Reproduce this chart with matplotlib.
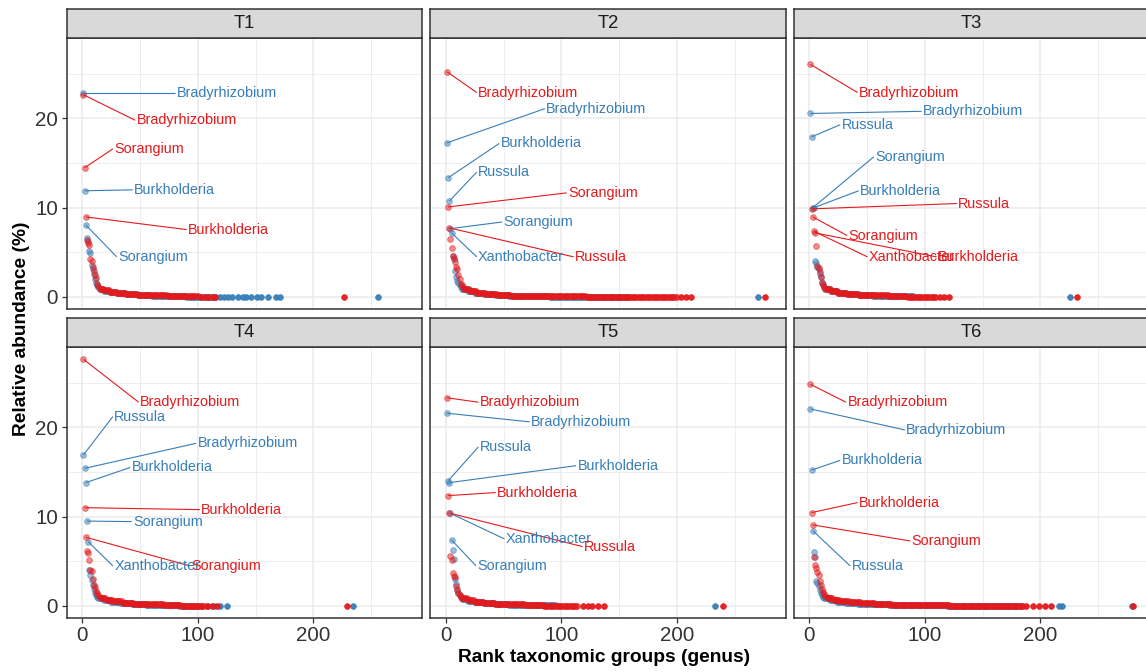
import matplotlib
matplotlib.use('Agg')
import matplotlib.pyplot as plt

# ---------------- data ----------------
panels = ['T1', 'T2', 'T3', 'T4', 'T5', 'T6']
series = ['blue', 'red']
x_ticks = [0, 100, 200]
y_ticks = [0, 10, 20]

# relative abundance (%) of the first ranks (rank 1, 2, 3, ...)
blue_head = {
    'T1': [22.8, 11.9, 8.07, 6.6, 6.3, 5.2, 4.9, 3.6, 3.1, 2.6, 2.0, 1.6, 1.3, 1.1],
    'T2': [17.27, 13.35, 10.73, 7.66, 7.18, 4.6, 4.2, 2.9, 2.2, 1.75, 1.6, 1.3, 1.1],
    'T3': [20.56, 17.94, 10.0, 10.0, 4.0, 3.8, 3.4, 3.1, 2.6, 2.2, 1.7, 1.4, 1.15],
    'T4': [16.9, 15.4, 13.8, 9.5, 7.2, 4.0, 3.5, 2.9, 2.35, 1.9, 1.5, 1.25, 1.05],
    'T5': [21.57, 14.0, 13.8, 10.37, 7.39, 6.27, 5.3, 3.0, 2.5, 1.87, 1.5, 1.2, 1.0],
    'T6': [22.05, 15.2, 8.43, 6.0, 5.5, 2.84, 2.6, 2.2, 1.8, 1.5, 1.25, 1.05],
}
red_head = {
    'T1': [22.65, 14.47, 8.97, 6.4, 6.1, 5.8, 4.2, 4.0, 3.4, 2.9, 2.5, 2.1, 1.5, 1.2],
    'T2': [25.23, 10.09, 7.74, 6.5, 5.5, 4.6, 4.4, 3.9, 3.4, 3.1, 2.5, 2.0, 1.5, 1.3, 1.1],
    'T3': [26.06, 9.87, 8.97, 7.36, 7.18, 5.68, 3.5, 3.25, 2.8, 2.2, 1.6, 1.3, 1.1],
    'T4': [27.6, 11.0, 7.69, 6.16, 5.9, 5.15, 4.0, 3.9, 3.0, 2.35, 2.1, 1.7, 1.4, 1.2, 1.05],
    'T5': [23.3, 12.35, 10.4, 5.6, 5.15, 3.66, 3.36, 3.2, 2.24, 1.8, 1.5, 1.25, 1.05],
    'T6': [24.8, 10.45, 9.07, 5.45, 4.6, 4.2, 3.84, 3.47, 2.84, 2.3, 1.9, 1.6, 1.35, 1.15, 1.0],
}
# long tail, as (number of consecutive ranks, abundance %)
blue_tail = {
    'T1': [(4, 0.9), (5, 0.7), (6, 0.52), (8, 0.4), (10, 0.28), (12, 0.2), (14, 0.14), (16, 0.09), (27, 0.05)],
    'T2': [(5, 0.85), (6, 0.62), (8, 0.45), (10, 0.32), (12, 0.22), (15, 0.14), (20, 0.08), (30, 0.05), (40, 0.03)],
    'T3': [(5, 0.85), (6, 0.62), (8, 0.45), (10, 0.32), (12, 0.22), (14, 0.14), (22, 0.07)],
    'T4': [(5, 0.85), (6, 0.65), (8, 0.48), (10, 0.34), (12, 0.24), (14, 0.15), (15, 0.09), (17, 0.04)],
    'T5': [(5, 0.8), (6, 0.6), (8, 0.44), (10, 0.3), (12, 0.21), (14, 0.13), (27, 0.06)],
    'T6': [(5, 0.85), (6, 0.66), (8, 0.5), (10, 0.38), (12, 0.27), (15, 0.18), (20, 0.12), (30, 0.07), (30, 0.04), (32, 0.02)],
}
red_tail = {
    'T1': [(4, 0.95), (5, 0.75), (6, 0.58), (8, 0.45), (10, 0.33), (12, 0.24), (14, 0.17), (16, 0.11), (11, 0.06)],
    'T2': [(5, 0.9), (6, 0.65), (8, 0.48), (10, 0.34), (12, 0.24), (15, 0.15), (20, 0.09), (30, 0.06), (30, 0.04), (49, 0.03)],
    'T3': [(5, 0.9), (6, 0.68), (8, 0.5), (10, 0.36), (12, 0.26), (14, 0.17), (16, 0.11), (26, 0.05)],
    'T4': [(5, 0.9), (6, 0.7), (8, 0.52), (10, 0.38), (12, 0.27), (14, 0.18), (15, 0.11), (20, 0.05)],
    'T5': [(5, 0.9), (6, 0.68), (8, 0.5), (10, 0.36), (12, 0.26), (14, 0.17), (16, 0.11), (30, 0.05)],
    'T6': [(5, 0.9), (6, 0.72), (8, 0.55), (10, 0.42), (12, 0.31), (15, 0.22), (20, 0.15), (30, 0.09), (30, 0.05), (34, 0.03)],
}
# isolated tied-rank groups at the end of the tail (rank), abundance ~0.02 %
blue_sparse = {
    'T1': [119, 123, 126, 130, 135, 139, 142, 146, 151, 155, 161, 168, 171, 256],
    'T2': [270],
    'T3': [226],
    'T4': [104, 109, 114, 119, 125, 234],
    'T5': [233],
    'T6': [183, 216, 219, 279],
}
red_sparse = {
    'T1': [103, 106, 109, 112, 115, 227],
    'T2': [204, 208, 212, 276],
    'T3': [113, 117, 121, 232],
    'T4': [108, 112, 117, 229],
    'T5': [119, 123, 127, 132, 137, 240],
    'T6': [188, 194, 199, 204, 209, 280],
}
sparse_value = 0.02

# labelled genera: (genus, rank)
blue_genera = {
    'T1': [('Bradyrhizobium', 1), ('Burkholderia', 2), ('Sorangium', 3)],
    'T2': [('Bradyrhizobium', 1), ('Burkholderia', 2), ('Russula', 3), ('Sorangium', 4), ('Xanthobacter', 5)],
    'T3': [('Bradyrhizobium', 1), ('Russula', 2), ('Sorangium', 3), ('Burkholderia', 4)],
    'T4': [('Russula', 1), ('Bradyrhizobium', 2), ('Burkholderia', 3), ('Sorangium', 4), ('Xanthobacter', 5)],
    'T5': [('Bradyrhizobium', 1), ('Russula', 2), ('Burkholderia', 3), ('Xanthobacter', 4), ('Sorangium', 5)],
    'T6': [('Bradyrhizobium', 1), ('Burkholderia', 2), ('Russula', 3)],
}
red_genera = {
    'T1': [('Bradyrhizobium', 1), ('Sorangium', 2), ('Burkholderia', 3)],
    'T2': [('Bradyrhizobium', 1), ('Sorangium', 2), ('Russula', 3)],
    'T3': [('Bradyrhizobium', 1), ('Russula', 2), ('Sorangium', 3), ('Xanthobacter', 4), ('Burkholderia', 5)],
    'T4': [('Bradyrhizobium', 1), ('Burkholderia', 2), ('Sorangium', 3)],
    'T5': [('Bradyrhizobium', 1), ('Burkholderia', 2), ('Russula', 3)],
    'T6': [('Bradyrhizobium', 1), ('Burkholderia', 2), ('Sorangium', 3)],
}

# ---------------- layout of repelled labels (left x, centre y in data units) ----------------
blue_label_pos = {
    'T1': [(81.6, 22.8), (45, 12.0), (31, 4.5)],
    'T2': [(87, 21.1), (47.5, 17.2), (28, 14.0), (50, 8.4), (28, 4.49)],
    'T3': [(98.5, 20.8), (28, 19.3), (57, 15.7), (44, 11.9)],
    'T4': [(27.7, 21.2), (99.7, 18.2), (42.7, 15.5), (44, 9.44), (27.7, 4.48)],
    'T5': [(74, 20.6), (29.4, 17.8), (114, 15.7), (52, 7.5), (27.4, 4.48)],
    'T6': [(84, 19.7), (28, 16.3), (36.6, 4.48)],
}
red_label_pos = {
    'T1': [(47, 19.8), (27.7, 16.6), (91.6, 7.55)],
    'T2': [(28, 22.9), (105.8, 11.66), (112, 4.49)],
    'T3': [(43, 22.9), (129, 10.47), (34, 6.88), (51.6, 4.49), (111.5, 4.49)],
    'T4': [(50, 22.8), (103, 10.78), (94.5, 4.48)],
    'T5': [(29.4, 22.8), (44.4, 12.69), (119.6, 6.64)],
    'T6': [(33, 22.8), (43, 11.57), (88.5, 7.28)],
}

COLORS = {'blue': '#377EB8', 'red': '#E41A1C'}
HEADS = {'blue': blue_head, 'red': red_head}
TAILS = {'blue': blue_tail, 'red': red_tail}
SPARSE = {'blue': blue_sparse, 'red': red_sparse}
GENERA = {'blue': blue_genera, 'red': red_genera}
LABPOS = {'blue': blue_label_pos, 'red': red_label_pos}


def build_series(head, tail):
    ranks, vals = [], []
    for i, v in enumerate(head):
        ranks.append(i + 1)
        vals.append(v)
    r = len(head)
    for n, v in tail:
        for _ in range(n):
            r += 1
            ranks.append(r)
            vals.append(v)
    return ranks, vals


# ---------------- figure ----------------
W, H = 1146, 672
fig = plt.figure(figsize=(W / 100, H / 100), dpi=100)

LABEL_FONT = 'Liberation Sans'
panel_w = 355.6
lefts = [66.7, 430.2, 793.7]
rows = [(38.3, 309.3, 9.3), (347.0, 618.3, 318.0)]  # panel top, panel bottom, strip top
strip_h = 29.0

XLIM = (-13.5, 294.4)
YLIM = (-1.38, 28.98)

for idx, p in enumerate(panels):
    row, col = divmod(idx, 3)
    top, bot, stop = rows[row]
    left = lefts[col]
    ax = fig.add_axes([left / W, 1 - bot / H, panel_w / W, (bot - top) / H])
    sax = fig.add_axes([left / W, 1 - (stop + strip_h) / H, panel_w / W, strip_h / H])

    ax.set_xlim(*XLIM)
    ax.set_ylim(*YLIM)
    ax.set_xticks(x_ticks)
    ax.set_xticks([50, 150, 250], minor=True)
    ax.set_yticks(y_ticks)
    ax.set_yticks([5, 15, 25], minor=True)
    ax.grid(which='major', color='#EBEBEB', linewidth=1.1)
    ax.grid(which='minor', color='#EBEBEB', linewidth=0.6)
    ax.set_axisbelow(True)
    for s in ax.spines.values():
        s.set_color('#333333')
        s.set_linewidth(1.1)
    ax.tick_params(which='minor', length=0)
    ax.tick_params(which='major', color='#333333', width=0.9, length=3.8,
                   labelsize=14.8, labelcolor='#333333')
    if row == 1:
        ax.tick_params(axis='x', pad=2.0)
        ax.set_xticklabels([str(t) for t in x_ticks], fontfamily=LABEL_FONT)
    else:
        ax.tick_params(axis='x', length=0, labelbottom=False)
    if col == 0:
        ax.tick_params(axis='y', pad=2.5)
        ax.set_yticklabels([str(t) for t in y_ticks], fontfamily=LABEL_FONT)
    else:
        ax.tick_params(axis='y', length=0, labelleft=False)

    # points
    for sname in series:
        c = COLORS[sname]
        ranks, vals = build_series(HEADS[sname][p], TAILS[sname][p])
        ax.scatter(ranks, vals, s=17, color=c, alpha=0.5, linewidths=0.7,
                   edgecolors=c, zorder=3)
        sp = SPARSE[sname][p]
        ax.scatter(sp, [sparse_value] * len(sp), s=17, color=c, alpha=0.95,
                   linewidths=0.5, edgecolors=c, zorder=3)

    # labels with leader segments
    for sname in series:
        c = COLORS[sname]
        head = HEADS[sname][p]
        for (genus, rank), (lx, ly) in zip(GENERA[sname][p], LABPOS[sname][p]):
            py = head[rank - 1]
            ax.plot([rank, lx - 1.2], [py, ly], color=c, lw=0.8, zorder=4,
                    solid_capstyle='butt')
            ax.text(lx, ly, genus, color=c, fontsize=10.4, family=LABEL_FONT,
                    ha='left', va='center', zorder=5)

    # strip
    sax.set_facecolor('#D9D9D9')
    sax.set_xticks([])
    sax.set_yticks([])
    for s in sax.spines.values():
        s.set_color('#333333')
        s.set_linewidth(1.1)
    sax.text(0.5, 0.5, p, transform=sax.transAxes, ha='center', va='center',
             fontsize=13.2, color='#1A1A1A', family=LABEL_FONT)

fig.text(604.5 / W, 1 - 657 / H, 'Rank taxonomic groups (genus)', ha='center',
         va='center', fontsize=13.8, fontweight='bold', family=LABEL_FONT, color='black')
fig.text(22 / W, 1 - 328.3 / H, 'Relative abundance (%)', ha='center', va='center',
         rotation=90, fontsize=13.8, fontweight='bold', family=LABEL_FONT, color='black')

fig.savefig('out.png', dpi=100)
